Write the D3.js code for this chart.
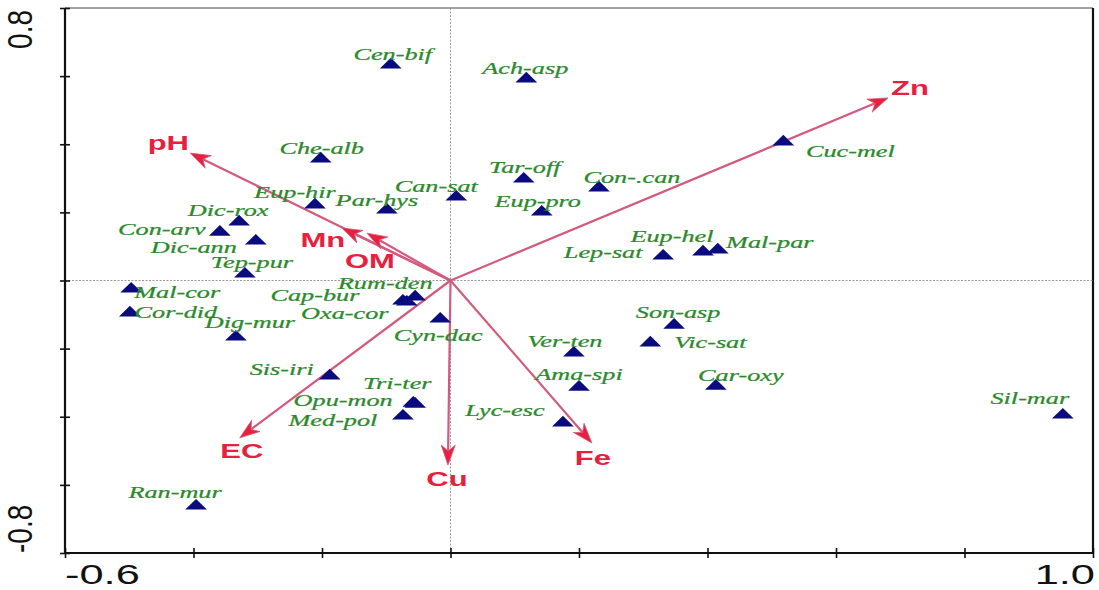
<!DOCTYPE html>
<html>
<head>
<meta charset="utf-8">
<script src="https://cdn.jsdelivr.net/npm/d3@7"></script>
<style>
  html, body { margin: 0; padding: 0; background: #fff; }
  svg { display: block; }
</style>
</head>
<body>
<svg id="chart" width="1099" height="590"></svg>
<script>
// Species scores (CCA axis 1 / axis 2)
const species = ["Cen-bif","Ach-asp","Che-alb","Tar-off","Con-.can","Can-sat","Eup-hir","Par-hys","Eup-pro",
  "Dic-rox","Con-arv","Dic-ann","Tep-pur","Mal-cor","Cor-did","Dig-mur","Rum-den","Cap-bur","Oxa-cor",
  "Cyn-dac","Sis-iri","Tri-ter","Opu-mon","Med-pol","Lyc-esc","Ver-ten","Ama-spi","Son-asp","Vic-sat",
  "Car-oxy","Lep-sat","Eup-hel","Mal-par","Cuc-mel","Sil-mar","Ran-mur"];
const speciesX = [-0.093,0.118,-0.202,0.114,0.231,0.009,-0.211,-0.099,0.142,
  -0.329,-0.359,-0.303,-0.320,-0.497,-0.499,-0.334,-0.055,-0.074,-0.068,
  -0.016,-0.188,-0.058,-0.055,-0.074,0.175,0.192,0.200,0.348,0.311,
  0.413,0.331,0.393,0.416,0.518,0.953,-0.396];
const speciesY = [0.630,0.589,0.354,0.295,0.269,0.242,0.219,0.204,0.198,
  0.169,0.139,0.113,0.016,-0.028,-0.098,-0.169,-0.051,-0.063,-0.066,
  -0.116,-0.283,-0.363,-0.366,-0.401,-0.421,-0.216,-0.316,-0.134,-0.186,
  -0.313,0.069,0.081,0.087,0.404,-0.398,-0.665];

// Environmental variables (biplot arrow ends)
const envVars = ["Zn","pH","Mn","OM","EC","Cu","Fe"];
const envX = [0.681,-0.405,-0.169,-0.130,-0.328,-0.004,0.220];
const envY = [0.536,0.374,0.154,0.139,-0.462,-0.542,-0.477];

// Axis ticks and the labels printed at the axis ends
const xTicks = [-0.6,-0.4,-0.2,0,0.2,0.4,0.6,0.8,1.0];
const yTicks = [-0.8,-0.6,-0.4,-0.2,0,0.2,0.4,0.6,0.8];
const xTickLabels = ["-0.6","1.0"];
const yTickLabels = ["0.8","-0.8"];

// Label placement (pixel offsets from each marker)
const speciesLabelOffset = [[2,-12],[-1,-12],[1,-12],[1,-13],[33,-12],[-20,-12],[-20,-14],[-10,-11],[-4,-12],
  [-11,-13],[-58,-4],[-62,5],[7,-13],[46,2],[46,-2],[14,-16],[-30,-15],[-88,-7],[-62,10],
  [-2,15],[-48,-8],[-16,-21],[-72,-5],[-70,3],[-58,-14],[-9,-13],[0,-14],[4,-14],[60,-2],
  [25,-12],[-60,-5],[-31,-17],[52,-9],[67,8],[-33,-18],[-21,-15]];
const envLabelOffset = [[22,-10],[-22,-10],[-19,12],[3,28],[2,13],[-1,14],[1,15]];

const svg = d3.select("#chart");
const plotL = 65, plotR = 1093, plotT = 8, plotB = 553;
const x = d3.scaleLinear().domain([-0.6, 1.0]).range([plotL, plotR]);
const y = d3.scaleLinear().domain([-0.8, 0.8]).range([plotB, plotT]);
const SX = 1.5; // horizontal text stretch

// frame: thin top, thick right
svg.append("line").attr("x1", plotL).attr("x2", plotR).attr("y1", plotT).attr("y2", plotT)
  .attr("stroke", "#444").attr("stroke-width", 1);
svg.append("line").attr("x1", plotR).attr("x2", plotR).attr("y1", plotT).attr("y2", plotB)
  .attr("stroke", "#111").attr("stroke-width", 2.2);

// dotted zero lines
svg.append("line").attr("x1", x(0)).attr("x2", x(0)).attr("y1", plotT).attr("y2", plotB)
  .attr("stroke", "#999").attr("stroke-width", 1).attr("stroke-dasharray", "2,1.5");
svg.append("line").attr("x1", plotL).attr("x2", plotR).attr("y1", y(0)).attr("y2", y(0))
  .attr("stroke", "#999").attr("stroke-width", 1).attr("stroke-dasharray", "2,1.5");

// axes
const xAxis = svg.append("g").attr("transform", `translate(0,${plotB})`)
  .call(d3.axisBottom(x).tickValues(xTicks).tickSize(6).tickFormat(""));
xAxis.select(".domain").attr("stroke", "#111").attr("stroke-width", 2.2).attr("d", `M${plotL},0H${plotR}`);
xAxis.selectAll(".tick line").attr("y1", -5).attr("y2", 5).attr("stroke", "#111").attr("stroke-width", 1.6);

const yAxis = svg.append("g").attr("transform", `translate(${plotL},0)`)
  .call(d3.axisLeft(y).tickValues(yTicks).tickSize(6).tickFormat(""));
yAxis.select(".domain").attr("stroke", "#111").attr("stroke-width", 2.2).attr("d", `M0,${plotT}V${plotB}`);
yAxis.selectAll(".tick line").attr("x1", -5).attr("x2", 5).attr("stroke", "#111").attr("stroke-width", 1.6);

// end labels on axes
const tickFont = "'Liberation Sans', Arial, sans-serif";
svg.append("text").text(xTickLabels[0])
  .attr("transform", `translate(${x(-0.6)},${plotB + 31}) scale(1.55,1)`)
  .attr("font-family", tickFont).attr("font-size", 28).attr("fill", "#111");
svg.append("text").text(xTickLabels[1])
  .attr("text-anchor", "end")
  .attr("transform", `translate(${x(1.0) + 2},${plotB + 31}) scale(1.55,1)`)
  .attr("font-family", tickFont).attr("font-size", 28).attr("fill", "#111");
svg.append("text").text(yTickLabels[0])
  .attr("text-anchor", "end")
  .attr("transform", `translate(32,${y(0.8) + 2}) scale(1.25,1) rotate(-90)`)
  .attr("font-family", tickFont).attr("font-size", 28).attr("fill", "#111");
svg.append("text").text(yTickLabels[1])
  .attr("text-anchor", "start")
  .attr("transform", `translate(32,${y(-0.8)}) scale(1.25,1) rotate(-90)`)
  .attr("font-family", tickFont).attr("font-size", 28).attr("fill", "#111");

// environmental arrows
const env = envVars.map((n, i) => ({ name: n, x: envX[i], y: envY[i], off: envLabelOffset[i] }));
const arrows = svg.append("g");
env.forEach(d => {
  const x0 = x(0), y0 = y(0), x1 = x(d.x), y1 = y(d.y);
  const ang = Math.atan2(y1 - y0, x1 - x0);
  const L = 20, W = 7;
  const bx = x1 - L * Math.cos(ang), by = y1 - L * Math.sin(ang);
  const nx = x1 - 0.7 * L * Math.cos(ang), ny = y1 - 0.7 * L * Math.sin(ang);
  const px = -Math.sin(ang), py = Math.cos(ang);
  arrows.append("line").attr("x1", x0).attr("y1", y0).attr("x2", nx).attr("y2", ny)
    .attr("stroke", "#d25a7e").attr("stroke-width", 2.2);
  arrows.append("path")
    .attr("d", `M${x1},${y1}L${bx + W * px},${by + W * py}L${nx},${ny}L${bx - W * px},${by - W * py}Z`)
    .attr("fill", "#e8203e").attr("stroke", "#d25a7e").attr("stroke-width", 0.8);
  arrows.append("text").text(d.name)
    .attr("transform", `translate(${x1 + d.off[0]},${y1 + d.off[1]}) scale(1.55,1)`)
    .attr("text-anchor", "middle").attr("dominant-baseline", "central")
    .attr("font-family", "'Liberation Sans', Arial, sans-serif").attr("font-weight", "bold")
    .attr("font-size", 20).attr("fill", "#e8203e");
});

// species markers and labels
const sp = species.map((n, i) => ({ name: n, x: speciesX[i], y: speciesY[i], off: speciesLabelOffset[i] }));
const tri = d3.symbol().type(d3.symbolTriangle).size(80);
svg.append("g").selectAll("path").data(sp).join("path")
  .attr("d", tri)
  .attr("transform", d => `translate(${x(d.x)},${y(d.y) - 1}) scale(1.6,0.9)`)
  .attr("fill", "#0b0b80");
svg.append("g").selectAll("text").data(sp).join("text")
  .text(d => d.name)
  .attr("transform", d => `translate(${x(d.x) + d.off[0]},${y(d.y) + d.off[1]}) scale(${SX},1)`)
  .attr("text-anchor", "middle").attr("dominant-baseline", "central")
  .attr("font-family", "'Liberation Serif', 'Times New Roman', serif").attr("font-style", "italic")
  .attr("font-size", 17.5).attr("fill", "#2b8a2b")
  .attr("stroke", "#2b8a2b").attr("stroke-width", 0.25);
</script>
</body>
</html>
